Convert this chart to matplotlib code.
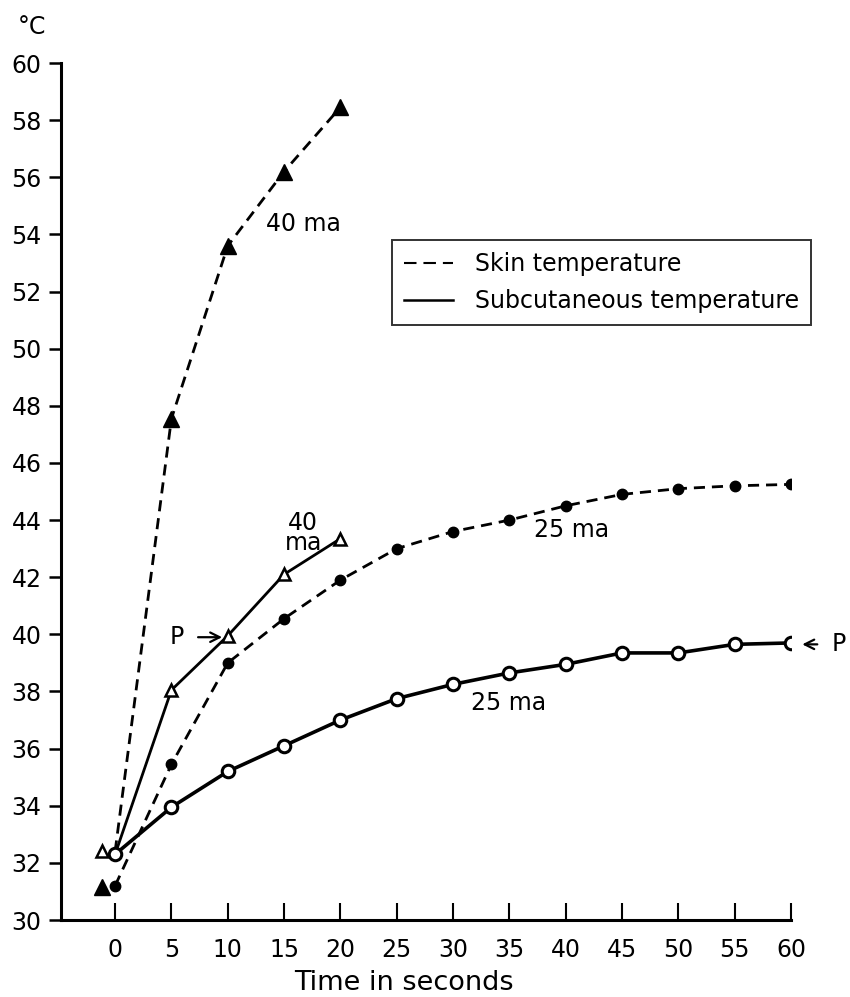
import matplotlib
matplotlib.use('Agg')
import matplotlib.pyplot as plt
from matplotlib.lines import Line2D

plt.rcParams['font.family'] = ['DejaVu Sans']
plt.rcParams['lines.scale_dashes'] = False

# time in seconds
time = [0, 5, 10, 15, 20, 25, 30, 35, 40, 45, 50, 55, 60]
time_40 = [0, 5, 10, 15, 20]

# 25 ma curves
skin_25 = [31.2, 35.45, 39.0, 40.55, 41.9, 43.0, 43.6, 44.0, 44.5, 44.9, 45.1, 45.2, 45.25]
subcut_25 = [32.3, 33.95, 35.2, 36.1, 37.0, 37.75, 38.25, 38.65, 38.95, 39.35, 39.35, 39.65, 39.7]

# 40 ma curves
skin_40 = [32.4, 47.55, 53.6, 56.2, 58.45]
subcut_40 = [32.3, 38.05, 39.95, 42.1, 43.35]

# starting values plotted left of zero
start_t = [-1.2, -1.2]
start_v = [32.4, 31.15]

yticks = list(range(30, 61, 2))
xticks = time

fig = plt.figure(figsize=(8.5, 9.97), dpi=100)
ax = fig.add_axes([0.0718, 0.0772, 0.8588, 0.8596])

dash = (8, 5)

# skin 40 ma (dashed, filled triangles)
ax.plot(time_40, skin_40, color='black', lw=2.0, dashes=dash, zorder=2)
ax.plot(time_40[1:], skin_40[1:], ls='none', marker='^', ms=11, color='black', zorder=4)

# subcutaneous 40 ma (solid, open triangles)
ax.plot(time_40, subcut_40, color='black', lw=2.0, zorder=2)
ax.plot(time_40[1:], subcut_40[1:], ls='none', marker='^', ms=9, mfc='white',
        mec='black', mew=1.8, zorder=4)

# skin 25 ma (dashed, filled dots)
ax.plot(time, skin_25, color='black', lw=2.0, dashes=dash, marker='o', ms=7.5,
        zorder=3)

# subcutaneous 25 ma (solid, open circles)
ax.plot(time, subcut_25, color='black', lw=2.6, marker='o', ms=9, mfc='white',
        mec='black', mew=2.2, zorder=5)

# start markers
ax.plot(start_t[0], start_v[0], ls='none', marker='^', ms=9, mfc='white',
        mec='black', mew=1.8, zorder=4)
ax.plot(start_t[1], start_v[1], ls='none', marker='^', ms=11, color='black', zorder=4)

# labels on curves
fs = 17
ax.text(16.7, 54.35, '40 ma', fontsize=fs, ha='center', va='center')
ax.text(16.7, 43.55, '40\nma', fontsize=fs, ha='center', va='center', linespacing=0.8)
ax.text(40.5, 43.65, '25 ma', fontsize=fs, ha='center', va='center')
ax.text(34.9, 37.6, '25 ma', fontsize=fs, ha='center', va='center')
ax.annotate('P', xy=(9.5, 39.9), xytext=(5.5, 39.9), fontsize=fs, ha='center',
            va='center', arrowprops=dict(arrowstyle='->', lw=1.6, color='black',
                                         shrinkA=8, shrinkB=0))
ax.annotate('P', xy=(61.0, 39.65), xytext=(64.2, 39.65), fontsize=fs, ha='center',
            va='center', annotation_clip=False,
            arrowprops=dict(arrowstyle='->', lw=1.6, color='black',
                            shrinkA=8, shrinkB=0))

ax.set_xlim(-4.8, 60)
ax.set_ylim(30, 60)
ax.set_xticks(xticks)
ax.set_yticks(yticks)
ax.spines['top'].set_visible(False)
ax.spines['right'].set_visible(False)
ax.spines['left'].set_linewidth(2.2)
ax.spines['bottom'].set_linewidth(2.2)
ax.tick_params(axis='x', direction='in', length=12, width=1.5, pad=13, labelsize=17)
ax.tick_params(axis='y', direction='out', length=9, width=1.8, pad=5, labelsize=17)

fig.text(0.0376, 0.973, '°C', fontsize=17, ha='center', va='center')
fig.text(0.475, 0.014, 'Time in seconds', fontsize=19.5, ha='center', va='center')

handles = [Line2D([], [], color='black', lw=1.5, dashes=(9, 5)),
           Line2D([], [], color='black', lw=1.8)]
leg = ax.legend(handles, ['Skin temperature', 'Subcutaneous temperature'],
                loc='upper left', bbox_to_anchor=(0.4534, 0.7935), borderaxespad=0,
                fontsize=17, frameon=True, fancybox=False, handlelength=2.1,
                handletextpad=0.9, borderpad=0.5, labelspacing=0.55)
leg.get_frame().set_edgecolor('black')
leg.get_frame().set_linewidth(1.4)

fig.savefig('out.png', dpi=100)
